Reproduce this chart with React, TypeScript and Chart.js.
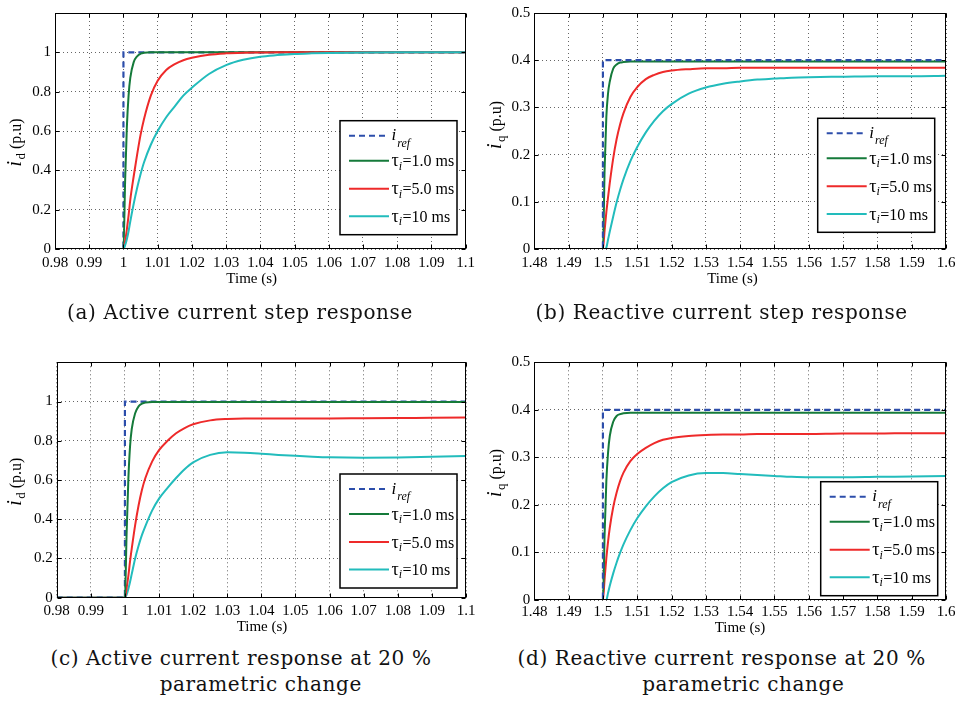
import React, { useEffect, useRef } from 'react';
import { Chart, registerables } from 'chart.js';

Chart.register(...registerables);

// ---------------- data ----------------
const TIME_A = [0.98, 1.0, 1.0005, 1.001, 1.0015, 1.002, 1.003, 1.004, 1.005, 1.006, 1.008, 1.01, 1.0125, 1.015, 1.0175, 1.02, 1.025, 1.03, 1.035, 1.04, 1.045, 1.05, 1.055, 1.06, 1.07, 1.08, 1.09, 1.1];
const TIME_B = [1.48, 1.5, 1.5005, 1.501, 1.5015, 1.502, 1.503, 1.504, 1.505, 1.506, 1.508, 1.51, 1.5125, 1.515, 1.5175, 1.52, 1.525, 1.53, 1.535, 1.54, 1.545, 1.55, 1.555, 1.56, 1.57, 1.58, 1.59, 1.6];

const REF_TIME_A = [0.98, 1.0, 1.0, 1.1];
const REF_TIME_B = [1.48, 1.5, 1.5, 1.6];
const REF_A = [0, 0, 1, 1];
const REF_B = [0, 0, 0.4, 0.4];

// (a) active current step response
const A_TAU1 = [0, 0, 0.35, 0.62, 0.78, 0.87, 0.95, 0.98, 0.993, 0.998, 1, 1, 1, 1, 1, 1, 1, 1, 1, 1, 1, 1, 1, 1, 1, 1, 1, 1];
const A_TAU5 = [0, 0, 0.04, 0.1, 0.17, 0.25, 0.37, 0.48, 0.58, 0.66, 0.78, 0.855, 0.91, 0.94, 0.96, 0.972, 0.988, 0.995, 0.998, 0.999, 1, 1, 1, 1, 1, 1, 1, 1];
const A_TAU10 = [0, 0, 0.02, 0.05, 0.09, 0.14, 0.23, 0.31, 0.38, 0.44, 0.53, 0.6, 0.67, 0.725, 0.78, 0.82, 0.89, 0.935, 0.962, 0.978, 0.986, 0.992, 0.995, 0.997, 0.999, 1, 1, 1];

// (b) reactive current step response
const B_TAU1 = [0, 0, 0.17, 0.28, 0.33, 0.355, 0.382, 0.391, 0.395, 0.396, 0.397, 0.397, 0.397, 0.397, 0.397, 0.397, 0.397, 0.397, 0.397, 0.397, 0.397, 0.397, 0.397, 0.397, 0.397, 0.397, 0.397, 0.397];
const B_TAU5 = [0, 0, 0.04, 0.078, 0.11, 0.14, 0.192, 0.233, 0.264, 0.288, 0.322, 0.343, 0.36, 0.369, 0.375, 0.378, 0.381, 0.383, 0.383, 0.384, 0.384, 0.384, 0.384, 0.384, 0.384, 0.384, 0.384, 0.384];
const B_TAU10 = [0, 0, 0, 0.003, 0.02, 0.037, 0.069, 0.099, 0.125, 0.148, 0.186, 0.216, 0.247, 0.272, 0.292, 0.307, 0.329, 0.342, 0.35, 0.355, 0.359, 0.361, 0.363, 0.364, 0.365, 0.366, 0.366, 0.367];

// (c) active current response, 20 % parametric change
const C_TAU1 = [0, 0, 0.33, 0.6, 0.77, 0.86, 0.94, 0.975, 0.989, 0.995, 0.997, 0.997, 0.997, 0.997, 0.997, 0.997, 0.997, 0.997, 0.997, 0.997, 0.997, 0.997, 0.997, 0.997, 0.997, 0.997, 0.997, 0.997];
const C_TAU5 = [0, 0, 0.05, 0.11, 0.185, 0.25, 0.37, 0.47, 0.55, 0.61, 0.695, 0.752, 0.8, 0.838, 0.865, 0.884, 0.904, 0.911, 0.913, 0.913, 0.913, 0.913, 0.913, 0.914, 0.915, 0.916, 0.917, 0.918];
const C_TAU10 = [0, 0, 0.015, 0.045, 0.08, 0.12, 0.2, 0.265, 0.32, 0.365, 0.445, 0.505, 0.56, 0.61, 0.655, 0.69, 0.728, 0.741, 0.739, 0.734, 0.728, 0.723, 0.719, 0.716, 0.714, 0.715, 0.718, 0.722];

// (d) reactive current response, 20 % parametric change
const D_TAU1 = [0, 0, 0.14, 0.25, 0.31, 0.345, 0.375, 0.387, 0.391, 0.393, 0.394, 0.394, 0.394, 0.394, 0.394, 0.394, 0.394, 0.394, 0.394, 0.394, 0.394, 0.394, 0.394, 0.394, 0.394, 0.394, 0.394, 0.394];
const D_TAU5 = [0, 0, 0.045, 0.088, 0.123, 0.152, 0.195, 0.226, 0.25, 0.268, 0.292, 0.307, 0.32, 0.33, 0.337, 0.341, 0.345, 0.347, 0.348, 0.348, 0.349, 0.349, 0.349, 0.349, 0.35, 0.35, 0.351, 0.351];
const D_TAU10 = [0, 0, 0, 0, 0.015, 0.03, 0.056, 0.079, 0.099, 0.117, 0.147, 0.172, 0.197, 0.218, 0.235, 0.248, 0.262, 0.267, 0.267, 0.265, 0.263, 0.261, 0.259, 0.258, 0.258, 0.259, 0.26, 0.261];

// ticks
const X_TICKS_A = [0.98, 0.99, 1.0, 1.01, 1.02, 1.03, 1.04, 1.05, 1.06, 1.07, 1.08, 1.09, 1.1];
const X_TICKS_B = [1.48, 1.49, 1.5, 1.51, 1.52, 1.53, 1.54, 1.55, 1.56, 1.57, 1.58, 1.59, 1.6];
const Y_TICKS_D = [0, 0.2, 0.4, 0.6, 0.8, 1];
const Y_TICKS_Q = [0, 0.1, 0.2, 0.3, 0.4, 0.5];

// labels
const TAU_LABELS = ['=1.0 ms', '=5.0 ms', '=10 ms'];
const X_TITLE = 'Time (s)';
const Y_UNIT = ' (p.u)';
const CAPTION_A = ['(a) Active current step response'];
const CAPTION_B = ['(b) Reactive current step response'];
const CAPTION_C = ['(c) Active current response at 20 %', 'parametric change'];
const CAPTION_D = ['(d) Reactive current response at 20 %', 'parametric change'];

// ---------------- styles ----------------
const COL_REF = '#2c4eab';
const COL_G = '#157a3a';
const COL_R = '#ee2a2a';
const COL_C = '#22bcbc';
const SERIES_COLORS = [COL_G, COL_R, COL_C];
const FONT = '"Liberation Serif", "DejaVu Serif", serif';
const CAP_FONT = '"DejaVu Serif", serif';

type Pt = { x: number; y: number };
type PanelDef = {
  key: string;
  left: number; top: number; width: number; height: number;
  area: { l: number; r: number; t: number; b: number };
  xMin: number; xMax: number; yMax: number;
  time: number[]; refTime: number[]; ref: number[];
  series: number[][];
  xTicks: number[]; yTicks: number[];
  ySub: string;
  order: number[];
  legend: { x: number; y: number };
  yLabel: { x: number; y: number };
  xLabel: { x: number; y: number };
  xTickPad: number;
};

const PANELS: PanelDef[] = [
  {
    key: 'a', left: 0, top: 0, width: 480, height: 300,
    area: { l: 55, r: 466, t: 12, b: 249 },
    xMin: 0.98, xMax: 1.1, yMax: 1.2,
    time: TIME_A, refTime: REF_TIME_A, ref: REF_A,
    series: [A_TAU1, A_TAU5, A_TAU10],
    xTicks: X_TICKS_A, yTicks: Y_TICKS_D, ySub: 'd',
    order: [3, 2, 1, 0],
    legend: { x: 340, y: 120.7 }, yLabel: { x: 16, y: 142.5 }, xLabel: { x: 251.7, y: 279 }, xTickPad: 5,
  },
  {
    key: 'b', left: 480, top: 0, width: 481, height: 300,
    area: { l: 534.3, r: 946, t: 12, b: 249 },
    xMin: 1.48, xMax: 1.6, yMax: 0.5,
    time: TIME_B, refTime: REF_TIME_B, ref: REF_B,
    series: [B_TAU1, B_TAU5, B_TAU10],
    xTicks: X_TICKS_B, yTicks: Y_TICKS_Q, ySub: 'q',
    order: [0, 1, 2, 3],
    legend: { x: 817.7, y: 118.3 }, yLabel: { x: 496, y: 125 }, xLabel: { x: 732.5, y: 279 }, xTickPad: 5,
  },
  {
    key: 'c', left: 0, top: 340, width: 480, height: 300,
    area: { l: 56.7, r: 466, t: 362.3, b: 597.7 },
    xMin: 0.98, xMax: 1.1, yMax: 1.2,
    time: TIME_A, refTime: REF_TIME_A, ref: REF_A,
    series: [C_TAU1, C_TAU5, C_TAU10],
    xTicks: X_TICKS_A, yTicks: Y_TICKS_D, ySub: 'd',
    order: [1, 0, 2, 3],
    legend: { x: 340, y: 474 }, yLabel: { x: 16, y: 481.7 }, xLabel: { x: 262, y: 627.5 }, xTickPad: 4,
  },
  {
    key: 'd', left: 480, top: 340, width: 481, height: 300,
    area: { l: 534.3, r: 946, t: 362.3, b: 600 },
    xMin: 1.48, xMax: 1.6, yMax: 0.5,
    time: TIME_B, refTime: REF_TIME_B, ref: REF_B,
    series: [D_TAU1, D_TAU5, D_TAU10],
    xTicks: X_TICKS_B, yTicks: Y_TICKS_Q, ySub: 'q',
    order: [0, 1, 2, 3],
    legend: { x: 820.7, y: 481.7 }, yLabel: { x: 496, y: 473 }, xLabel: { x: 740, y: 628 }, xTickPad: 3.5,
  },
];

const fmt = (v: number) => String(parseFloat(Number(v).toFixed(4)));

function decorPlugin(p: PanelDef) {
  return {
    id: 'decor_' + p.key,
    afterDraw(chart: any) {
      const ctx: CanvasRenderingContext2D = chart.ctx;
      const a = chart.chartArea;
      const xs = chart.scales.x;
      const ys = chart.scales.y;
      ctx.save();
      ctx.strokeStyle = '#000';
      ctx.lineWidth = 1;
      ctx.setLineDash([]);
      const L = Math.round(a.left) + 0.5;
      const R = Math.round(a.right) - 0.5;
      const T = Math.round(a.top) + 0.5;
      const B = Math.round(a.bottom) - 0.5;
      ctx.beginPath();
      p.xTicks.forEach((v) => {
        const x = Math.round(xs.getPixelForValue(v)) + 0.5;
        ctx.moveTo(x, B); ctx.lineTo(x, B - 4);
        ctx.moveTo(x, T); ctx.lineTo(x, T + 4);
      });
      p.yTicks.forEach((v) => {
        const y = Math.round(ys.getPixelForValue(v)) + 0.5;
        ctx.moveTo(L, y); ctx.lineTo(L + 4, y);
        ctx.moveTo(R, y); ctx.lineTo(R - 4, y);
      });
      ctx.stroke();
      ctx.strokeRect(L, T, R - L, B - T);

      // legend
      const lx = p.legend.x - p.left;
      const ly = p.legend.y - p.top;
      const lw = 117, lh = 114;
      ctx.fillStyle = '#fff';
      ctx.fillRect(lx, ly, lw, lh);
      ctx.lineWidth = 1.5;
      ctx.strokeStyle = '#000';
      ctx.strokeRect(lx, ly, lw, lh);
      const rows = [15, 40, 68, 95.6];
      const cols = [COL_REF, ...SERIES_COLORS];
      rows.forEach((ry, i) => {
        const y = ly + ry;
        ctx.beginPath();
        ctx.strokeStyle = cols[i];
        ctx.lineWidth = 2;
        ctx.setLineDash(i === 0 ? [6, 4] : []);
        ctx.moveTo(lx + 9, y);
        ctx.lineTo(lx + 49, y);
        ctx.stroke();
        ctx.setLineDash([]);
        ctx.fillStyle = '#000';
        ctx.textBaseline = 'alphabetic';
        ctx.textAlign = 'left';
        let tx = lx + 51.5;
        if (i === 0) {
          ctx.font = 'italic 17px ' + FONT;
          ctx.fillText('i', tx, y + 4.5);
          tx += ctx.measureText('i').width + 1;
          ctx.font = 'italic 12px ' + FONT;
          ctx.fillText('ref', tx, y + 11);
        } else {
          ctx.font = '18px ' + FONT;
          ctx.fillText('τ', tx, y + 5.6);
          tx += ctx.measureText('τ').width;
          ctx.font = 'italic 12px ' + FONT;
          ctx.fillText('i', tx, y + 8.8);
          tx += ctx.measureText('i').width + 0.5;
          ctx.font = '16px ' + FONT;
          ctx.fillText(TAU_LABELS[i - 1], tx, y + 5.6);
        }
      });

      ctx.font = '15px ' + FONT;
      ctx.fillStyle = '#000';
      ctx.textAlign = 'center';
      ctx.textBaseline = 'middle';
      ctx.fillText(X_TITLE, p.xLabel.x - p.left, p.xLabel.y - p.top);

      ctx.save();
      ctx.translate(p.yLabel.x - p.left, p.yLabel.y - p.top);
      ctx.rotate(-Math.PI / 2);
      ctx.textAlign = 'left';
      ctx.textBaseline = 'alphabetic';
      const f1 = 'italic 20px ' + FONT;
      const f2 = '13px ' + FONT;
      const f3 = '16px ' + FONT;
      ctx.font = f1; const w1 = ctx.measureText('i').width + 1.5;
      ctx.font = f2; const w2 = ctx.measureText(p.ySub).width;
      ctx.font = f3; const w3 = ctx.measureText(Y_UNIT).width;
      let x0 = -(w1 + w2 + w3) / 2;
      ctx.font = f1; ctx.fillText('i', x0, 5); x0 += w1;
      ctx.font = f2; ctx.fillText(p.ySub, x0, 8.5); x0 += w2;
      ctx.font = f3; ctx.fillText(Y_UNIT, x0, 5);
      ctx.restore();

      ctx.restore();
    },
  };
}

function ChartPanel({ p }: { p: PanelDef }) {
  const ref = useRef<HTMLCanvasElement>(null);
  useEffect(() => {
    if (!ref.current) return;
    const toPts = (xs: number[], ys: number[]): Pt[] => xs.map((x, i) => ({ x, y: ys[i] }));
    const datasets: any[] = [
      {
        label: 'iref',
        data: toPts(p.refTime, p.ref),
        borderColor: COL_REF,
        borderWidth: 2.2,
        borderDash: [6, 4],
        pointRadius: 0,
        tension: 0,
        fill: false,
        order: p.order[0],
      },
      ...p.series.map((s, i) => ({
        label: 'tau' + TAU_LABELS[i],
        data: toPts(p.time, s),
        borderColor: SERIES_COLORS[i],
        borderWidth: 2,
        pointRadius: 0,
        cubicInterpolationMode: 'monotone',
        fill: false,
        order: p.order[i + 1],
      })),
    ];
    const gridCommon = { color: 'rgba(0,0,0,0.6)', lineWidth: 1, drawTicks: false };
    const chart = new Chart(ref.current, {
      type: 'line',
      data: { datasets },
      options: {
        animation: false,
        responsive: false,
        devicePixelRatio: 1,
        events: [],
        layout: {
          padding: {
            left: 0,
            right: p.left + p.width - p.area.r,
            top: p.area.t - p.top,
            bottom: 0,
          },
        },
        plugins: { legend: { display: false }, tooltip: { enabled: false }, title: { display: false } },
        scales: {
          x: {
            type: 'linear',
            min: p.xMin,
            max: p.xMax,
            afterBuildTicks: (s: any) => { s.ticks = p.xTicks.map((v) => ({ value: v })); },
            afterFit: (s: any) => { s.height = p.top + p.height - p.area.b; },
            grid: gridCommon,
            border: { display: false, dash: [1, 3] },
            ticks: {
              padding: p.xTickPad,
              maxRotation: 0,
              minRotation: 0,
              autoSkip: false,
              color: '#000',
              font: { family: FONT, size: 15 },
              callback: (v: any) => fmt(v),
            },
          },
          y: {
            type: 'linear',
            min: 0,
            max: p.yMax,
            afterBuildTicks: (s: any) => { s.ticks = p.yTicks.map((v) => ({ value: v })); },
            afterFit: (s: any) => { s.width = p.area.l - p.left; },
            grid: gridCommon,
            border: { display: false, dash: [1, 3] },
            ticks: {
              padding: 4,
              autoSkip: false,
              color: '#000',
              font: { family: FONT, size: 15 },
              callback: (v: any) => fmt(v),
            },
          },
        },
      } as any,
      plugins: [decorPlugin(p)],
    });
    return () => chart.destroy();
  }, [p]);
  return (
    <canvas
      ref={ref}
      width={p.width}
      height={p.height}
      style={{ position: 'absolute', left: p.left, top: p.top, width: p.width, height: p.height }}
    />
  );
}

const capStyle: React.CSSProperties = {
  position: 'absolute',
  width: 500,
  textAlign: 'center',
  fontFamily: CAP_FONT,
  fontSize: 20,
  lineHeight: '26px',
  letterSpacing: '0.6px',
  whiteSpace: 'nowrap',
  color: '#111',
};

function Cap({ text, cx, cy }: { text: string; cx: number; cy: number }) {
  return <div style={{ ...capStyle, left: cx - 250, top: cy - 13 }}>{text}</div>;
}

export default function App() {
  return (
    <div style={{ position: 'absolute', left: 0, top: 0, width: 961, height: 701, background: '#fff', overflow: 'hidden' }}>
      {PANELS.map((p) => (
        <ChartPanel key={p.key} p={p} />
      ))}
      <Cap text={CAPTION_A[0]} cx={240} cy={312} />
      <Cap text={CAPTION_B[0]} cx={721.7} cy={312} />
      <Cap text={CAPTION_C[0]} cx={241} cy={658} />
      <Cap text={CAPTION_C[1]} cx={260.8} cy={684} />
      <Cap text={CAPTION_D[0]} cx={721.7} cy={658} />
      <Cap text={CAPTION_D[1]} cx={743.3} cy={684} />
    </div>
  );
}
